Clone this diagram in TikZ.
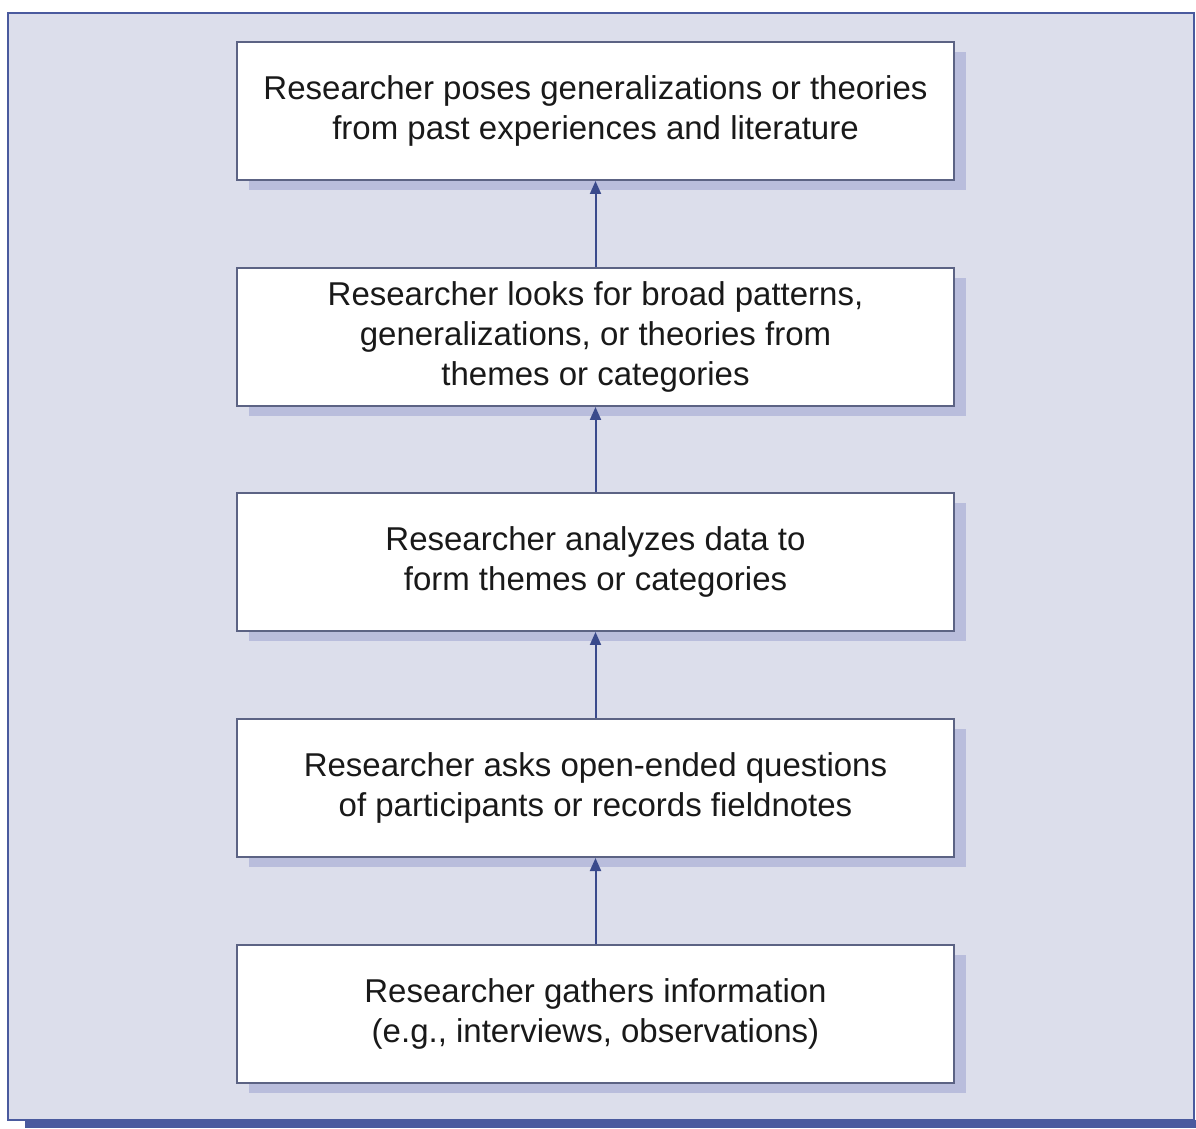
\documentclass[tikz,border=0pt]{standalone}
\usepackage{fontspec}
\setmainfont{Liberation Sans}
\usetikzlibrary{positioning,arrows.meta,shadows}
\definecolor{panel}{HTML}{DCDEEB}
\definecolor{frameblue}{HTML}{4A5A9E}
\definecolor{boxline}{HTML}{5C6384}
\definecolor{shade}{HTML}{B9BDDC}
\definecolor{arrowblue}{HTML}{3A4A8C}

\tikzstyle{stage}=[rectangle,draw=boxline,line width=2pt,fill=white,minimum width=717pt,minimum height=138pt,inner sep=0pt,align=center,font=\fontsize{33}{40}\selectfont,text=black!90,drop shadow={shadow xshift=12pt,shadow yshift=-10pt,fill=shade,opacity=1}]
\tikzstyle{link} = [draw=arrowblue,line width=2pt,-{Triangle[width=11pt,length=13pt]}]

\begin{document}
\begin{tikzpicture}[x=1pt,y=1pt]
\useasboundingbox (0,0) rectangle (1196,1128);
% panel and frame
\fill[panel] (8,8) rectangle (1194,1115);
\draw[frameblue,line width=1.5pt] (8,8) rectangle (1194,1115);
\fill[frameblue] (25,0) rectangle (1196,8);
\foreach \pos/\name/\txt in {
  {(595.5,1017)/theory/Researcher poses generalizations or theories\\from past experiences and literature},
  {(595.5,791)/pattern/Researcher looks for broad patterns,\\generalizations, or theories from\\themes or categories},
  {(595.5,566)/theme/Researcher analyzes data to\\form themes or categories},
  {(595.5,340)/ask/Researcher asks open-ended questions\\of participants or records fieldnotes},
  {(595.5,114)/gather/Researcher gathers information\\(e.g., interviews, observations)}}
\node[stage] (\name) at \pos {\txt};
\foreach \source/\dest in {gather/ask, ask/theme, theme/pattern, pattern/theory}
\draw[link] (\source) -- (\dest);
\end{tikzpicture}
\end{document}
